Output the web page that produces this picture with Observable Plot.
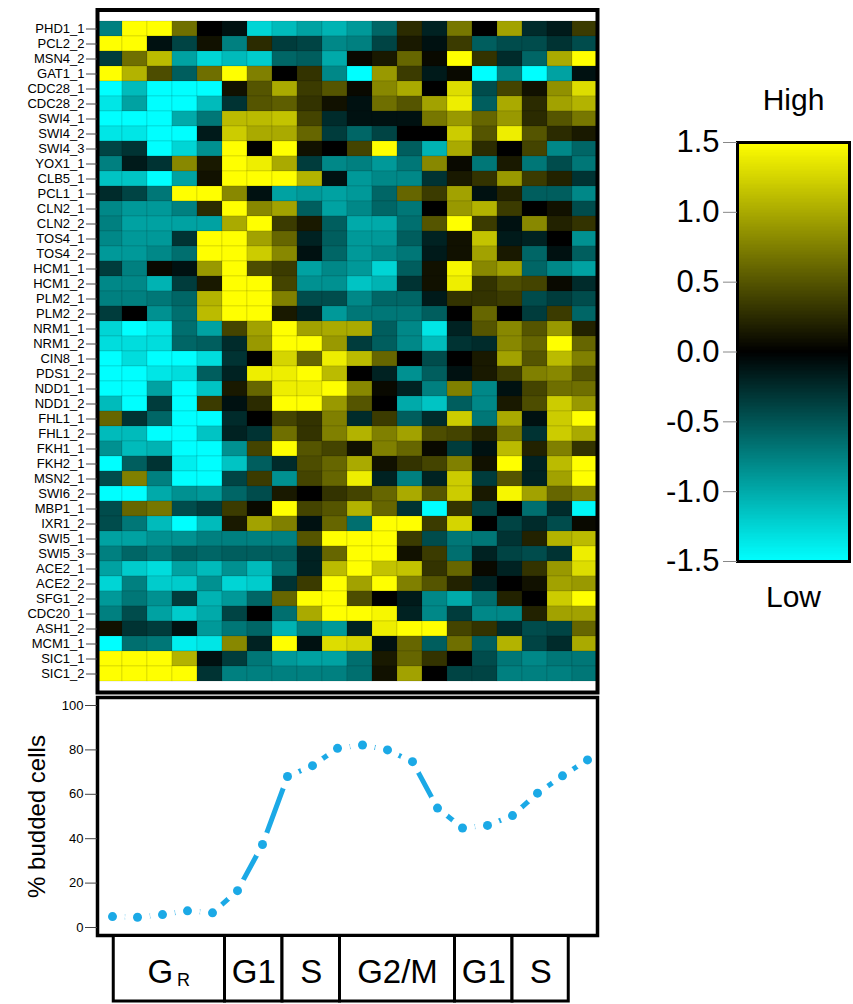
<!DOCTYPE html>
<html><head><meta charset="utf-8">
<script src="https://cdn.jsdelivr.net/npm/d3@7"></script>
<script src="https://cdn.jsdelivr.net/npm/@observablehq/plot@0.6"></script>
<style>
body{margin:0;background:#fff;}
#page{position:relative;width:853px;height:1004px;overflow:hidden;background:#fff;font-family:"Liberation Sans",Arial,sans-serif;}
#page svg{position:absolute;}
</style></head><body><div id="page"></div>
<script>
const genes = ["PHD1_1","PCL2_2","MSN4_2","GAT1_1","CDC28_1","CDC28_2","SWI4_1","SWI4_2","SWI4_3","YOX1_1","CLB5_1","PCL1_1","CLN2_1","CLN2_2","TOS4_1","TOS4_2","HCM1_1","HCM1_2","PLM2_1","PLM2_2","NRM1_1","NRM1_2","CIN8_1","PDS1_2","NDD1_1","NDD1_2","FHL1_1","FHL1_2","FKH1_1","FKH2_1","MSN2_1","SWI6_2","MBP1_1","IXR1_2","SWI5_1","SWI5_3","ACE2_1","ACE2_2","SFG1_2","CDC20_1","ASH1_2","MCM1_1","SIC1_1","SIC1_2"];

const timepoints = [1,2,3,4,5,6,7,8,9,10,11,12,13,14,15,16,17,18,19,20];

// expression (log ratio), one row per gene, one value per time point
const expression = [
 [-0.75,1.5,1.5,0.65,0,-0.1,-1.25,-1.1,-0.95,-1.05,-0.9,-0.6,0.25,-0.2,0.7,0,0.95,-0.25,-0.15,0.35],
 [1.5,1.5,-0.1,-0.4,0.1,-0.75,0.25,-0.35,-0.4,-0.8,-0.75,-0.4,0.15,-0.1,0.35,-0.55,-0.45,-0.45,-0.3,-0.45],
 [-0.35,0.65,1.1,-0.95,-1.25,-1.1,-1.2,-0.6,-0.55,-1.0,0.05,0.15,0.6,0.05,1.5,0.3,-0.25,-0.6,1.0,1.5],
 [1.5,1.05,0.45,-0.55,0.65,1.5,0.75,0,0.3,-0.8,-1.5,0.9,0.35,-0.15,0.05,-1.5,-0.75,-1.5,-0.95,-0.1],
 [-1.5,-1.1,-1.5,-1.5,-1.5,0.1,0.5,1.0,0.35,0.5,0.05,0.8,1.0,0,1.3,-0.45,0.4,0.1,0.85,1.3],
 [-1.35,-0.95,-1.5,-1.5,-1.1,-0.3,0.5,0.55,0.3,0.1,-0.1,0.65,0.5,0.95,1.4,-0.55,1.0,0.25,0.95,1.05],
 [-1.5,-1.5,-1.5,-1.0,-0.7,1.1,1.1,1.15,0.4,-0.25,-0.1,-0.1,-0.1,0.7,0.9,0.6,0.9,0.25,0.5,0.7],
 [-1.35,-1.35,-1.5,-1.5,-0.15,1.2,1.0,1.0,0.6,-0.35,-0.6,-0.4,0,0,1.2,0.5,1.4,0.5,0.25,0.15],
 [-0.4,-0.3,-1.5,-1.25,-0.85,1.5,0,1.5,0.1,0,0.4,1.5,-0.55,-1.05,1.0,0.25,0,0.4,-0.8,-0.6],
 [-0.75,-0.15,-0.3,0.8,0.15,1.5,1.4,1.0,-0.35,-0.8,-0.75,-0.9,-0.7,0.8,0.05,-0.7,0.15,-0.7,-0.45,-0.7],
 [-1.15,-1.15,-1.5,-0.95,0.1,1.5,1.5,1.5,1.05,-0.1,-0.9,-0.8,-0.8,-0.3,0.15,0.3,0.9,0.35,0.2,-0.3],
 [-0.25,-0.4,-0.7,1.5,1.5,0.8,-0.1,-0.95,-0.9,-0.95,-0.9,-0.6,0.6,0.35,0.95,-0.1,0.2,-0.55,-0.55,-0.8],
 [-0.8,-0.9,-0.9,-0.75,0.25,1.5,0.8,0.95,-0.55,-0.95,-0.8,-0.6,-0.7,0,0.9,1.05,0.35,0,0.1,-0.45],
 [-0.75,-0.95,-0.95,-0.95,-0.95,1.0,1.5,0.35,0.15,-0.55,-1.0,-1.0,-0.65,0.5,1.5,0.35,-0.1,0.8,0.2,0.3],
 [-0.8,-0.9,-0.9,-0.3,1.5,1.5,0.95,0.6,-0.2,-0.55,-0.9,-0.9,-0.55,-0.2,0.1,1.15,-0.15,-0.2,0,-0.85],
 [-0.9,-0.9,-0.8,-0.65,1.5,1.5,1.2,0.8,-0.1,-0.6,-0.9,-0.8,-0.7,-0.15,0.1,0.95,0.15,-0.6,-0.1,-0.55],
 [-0.35,-0.75,0.05,-0.1,0.9,1.5,0.45,0.35,-0.95,-0.8,-0.9,-1.25,-0.55,0.1,1.45,0.8,0.95,-0.6,-0.8,-0.95],
 [-0.8,-0.8,-1.05,-0.35,0.15,1.5,1.5,0.4,-0.85,-0.85,-1.15,-1.05,-0.3,0.1,1.4,0.3,0.45,0.4,0.05,-0.25],
 [-0.75,-0.75,-0.7,-0.6,1.05,1.5,1.5,0.75,-0.45,-0.45,-0.8,-0.6,-0.6,-0.15,0.3,0.3,0.35,-0.45,-0.35,-0.45],
 [-0.35,0,-0.85,-0.65,1.1,1.5,1.5,0.15,-0.2,-0.9,-0.7,-0.7,-0.7,-0.55,0,0.6,0,-0.35,0.35,-0.6],
 [-1.25,-1.5,-1.35,-0.65,-0.95,0.4,0.95,1.5,0.95,1.0,1.0,-0.55,-0.8,-1.35,-0.2,0.5,0.8,0.5,0.9,0.2],
 [-1.3,-1.3,-1.3,-0.6,-0.55,-0.25,0.9,1.5,1.5,0.9,-0.35,-0.55,-0.8,-1.1,-0.3,-0.25,0.8,0.6,1.5,0.6],
 [-1.5,-1.3,-1.5,-1.5,-1.3,-0.3,0,1.25,0.6,1.4,1.1,0.6,0,-0.45,0,0.15,0.95,0.5,1.1,0.75],
 [-1.5,-1.5,-1.35,-1.3,-0.55,-0.2,1.4,1.4,1.5,1.1,0,-0.2,-0.85,-0.55,-0.1,0.15,0.35,0.75,0.8,0.5],
 [-1.5,-1.5,-0.95,-1.5,-1.15,0.15,0.6,1.4,1.4,1.5,0.8,0.05,-0.2,-0.75,0.75,-0.8,-0.1,0.4,0.65,0.65],
 [-1.1,-1.5,-0.35,-1.5,0.35,-0.1,0.25,1.5,1.5,0.9,0.5,0,-1.0,-1.15,-0.55,-0.8,0.15,0.45,1.2,0.9],
 [0.6,-0.3,-0.6,-1.5,-1.5,-0.25,0,0.4,0.3,0.75,-0.25,0.35,-0.55,-0.25,1.2,-0.7,1.0,-0.1,1.2,1.5],
 [-1.1,-1.1,-1.5,-1.5,-1.15,-0.2,-0.3,0.65,0.3,0.75,1.05,0.75,0.95,0.45,0.4,0.2,0.7,-0.3,1.2,1.0],
 [-0.85,-1.1,-1.05,-1.5,-1.5,-0.85,0.4,1.5,0.5,0.4,0.1,0.75,0.6,0.05,-0.35,-0.1,1.1,0.2,0.75,0.3],
 [-1.5,-0.55,-0.3,-1.4,-1.5,-1.15,-0.55,-0.25,0.45,0.6,1.0,0.1,0.3,0.4,0.75,0.1,1.5,-0.2,1.1,1.5],
 [-0.45,0.75,-0.75,-1.5,-1.5,-0.4,0.35,-0.85,0.4,0.6,1.4,-0.2,-0.75,-0.2,1.2,-0.35,0.5,-0.2,0.95,1.5],
 [-1.5,-1.5,-1.0,-0.85,-0.9,-0.6,-0.45,0.15,0,0.3,0.4,0.6,1.0,0.5,1.2,0.15,1.45,0.95,0.6,0.75],
 [-0.45,0.6,0.7,-0.45,-0.35,0.35,0.05,1.5,0.4,0.5,1.05,0.6,-0.3,-1.5,0.3,-0.4,0,-0.65,-0.25,-1.45],
 [-0.45,-0.7,-1.1,-1.5,-1.1,0.15,0.95,0.75,-0.1,0.6,-0.65,1.5,1.5,0.35,1.25,0,-0.4,-0.25,-0.45,0.05],
 [-0.95,-0.95,-0.85,-0.85,-0.75,-0.75,-0.75,-0.75,0.5,1.5,1.5,1.5,0.35,-0.45,-0.7,-0.7,-0.3,0.2,1.05,1.1],
 [-0.75,-0.6,-0.7,-0.55,-0.6,-0.55,-0.55,-0.55,-0.2,0.6,1.5,1.5,0.1,0.35,-0.65,-0.2,-0.4,-0.45,-0.3,1.4],
 [-0.95,-1.2,-1.3,-0.95,-1.1,-0.85,-1.1,-0.65,-0.2,1.1,1.5,1.15,1.15,0.3,0.6,0.05,-0.2,0.3,0.9,1.3],
 [-1.25,-0.75,-1.2,-1.2,-0.85,-1.25,-1.2,-0.3,0.35,1.5,0.95,1.5,0.75,0.5,0.2,-0.2,0,0.1,0.95,0.9],
 [-0.9,-0.7,-0.85,-0.35,-1.05,-0.9,-0.6,0.6,1.5,1.5,0.45,0,-0.15,-0.8,-1.0,-0.65,0.2,0,1.2,1.5],
 [-0.75,-0.45,-0.95,-1.2,-1.0,-0.4,0,-0.65,1.0,1.5,1.5,1.45,-0.2,-0.8,-0.35,-0.8,-0.8,0.2,0.95,0.95],
 [0.1,-0.3,-0.35,-0.1,-0.9,-0.7,-0.6,-1.05,-0.75,-0.9,-0.2,1.4,1.5,1.5,0.4,0.3,-0.25,-0.45,-0.4,0.6],
 [-1.5,-0.65,-0.7,-1.4,-1.35,0.8,-0.2,1.5,-0.1,1.3,1.25,-0.1,0.6,-0.55,0.65,-0.55,1.05,-0.4,-0.25,1.0],
 [1.5,1.5,1.5,1.05,-0.1,-0.35,-0.7,-0.9,-0.95,-0.95,-0.65,0.15,0.6,0.3,0,-0.45,-0.7,-0.8,-0.7,-0.7],
 [1.5,1.5,1.5,1.5,-0.3,-0.75,-0.75,-0.75,-0.75,-0.75,-0.65,0.1,0.95,0,-0.4,-0.4,-0.75,-0.75,-0.75,-0.7]
];

const budded = [4.9,4.6,5.8,7.5,6.6,16.6,37.4,68,72.9,80.7,82.2,80,74.7,53.8,44.8,46,50.4,60.5,68.3,75.5];

const phaseNames = ["G_R","G1","S","G2/M","G1","S"];
const phaseBounds = [1.05,5.5,7.8,10.1,14.7,17.0,19.25];

const legendTicks = [-1.5,-1.0,-0.5,0,0.5,1.0,1.5];
const legendHigh = "High";
const legendLow = "Low";
const yLabel = "% budded cells";
const buddedTicks = [0,20,40,60,80,100];

const FONT = '"Liberation Sans", Arial, sans-serif';
const BLUE = "#1ba9e6";
const colorScale = {type: "linear", domain: [-1.5, 0, 1.5], range: ["#00ffff", "#000000", "#ffff00"], interpolate: "rgb", clamp: true};
const svgStyle = {fontFamily: FONT, background: "transparent", overflow: "visible"};
const page = document.getElementById("page");
function place(el, left, top) { el.style.left = left + "px"; el.style.top = top + "px"; page.appendChild(el); }

// Heatmap
const cells = genes.flatMap((g, i) => expression[i].map((v, j) => ({gene: g, t: timepoints[j], v})));
const heat = Plot.plot({
  width: 600, height: 696,
  marginLeft: 97, marginRight: 3, marginTop: 9.5, marginBottom: 4,
  style: svgStyle,
  x: {type: "band", domain: timepoints, padding: 0, axis: null},
  y: {type: "band", domain: genes, padding: 0, label: null, axis: null},
  color: colorScale,
  marks: [
    Plot.cell(cells, {x: "t", y: "gene", fill: "v", inset: 0, stroke: "rgba(0,0,0,0.18)", strokeWidth: 0.6}),
    Plot.frame({stroke: "black", strokeWidth: 4}),
    Plot.axisY({tickSize: 11, tickPadding: 2, fontSize: 13, label: null, stroke: "#444"})
  ]
});
place(heat, 0, 0);

// Line chart
const xT = {domain: [1, 20], insetLeft: 15, insetRight: 10, axis: null};
const line = Plot.plot({
  width: 600, height: 244,
  marginLeft: 97, marginRight: 3, marginTop: 2, marginBottom: 4,
  style: svgStyle,
  x: xT,
  y: {domain: [0, 100], insetTop: 8, insetBottom: 8, axis: null},
  marks: [
    Plot.line(budded, {x: (d, i) => timepoints[i], y: d => d, stroke: BLUE, strokeWidth: 5}),
    Plot.dot(budded, {x: (d, i) => timepoints[i], y: d => d, r: 12.5, fill: "white"}),
    Plot.dot(budded, {x: (d, i) => timepoints[i], y: d => d, r: 4.5, fill: BLUE}),
    Plot.frame({stroke: "black", strokeWidth: 3.5}),
    Plot.axisY({ticks: buddedTicks, tickSize: 12, tickPadding: 2, fontSize: 13, label: null, stroke: "#444"}),
    Plot.text([yLabel], {frameAnchor: "left", textAnchor: "middle", lineAnchor: "middle", rotate: -90, dx: -60, fontSize: 24})
  ]
});
place(line, 0, 695);

// Cell-cycle phase boxes
const phaseIdx = phaseNames.map((d, i) => i);
const mid = i => (phaseBounds[i] + phaseBounds[i + 1]) / 2;
const plain = phaseIdx.filter(i => !phaseNames[i].includes("_"));
const subbed = phaseIdx.filter(i => phaseNames[i].includes("_"));
const boxes = Plot.plot({
  width: 600, height: 70,
  marginLeft: 97, marginRight: 3, marginTop: 1.5, marginBottom: 3,
  style: svgStyle,
  x: xT,
  marks: [
    Plot.rect(phaseIdx, {x1: i => phaseBounds[i], x2: i => phaseBounds[i + 1], fill: "white", stroke: "black", strokeWidth: 3}),
    Plot.text(plain, {x: mid, text: i => phaseNames[i], fontSize: 33, lineAnchor: "middle", dy: 4}),
    Plot.text(subbed, {x: mid, text: i => phaseNames[i].split("_")[0], fontSize: 33, lineAnchor: "middle", dy: 4, dx: -9}),
    Plot.text(subbed, {x: mid, text: i => phaseNames[i].split("_")[1], fontSize: 18, lineAnchor: "middle", dy: 11, dx: 14})
  ]
});
place(boxes, 0, 934);

// Colour bar legend
const stops = d3.range(-150, 150).map(k => k / 100);
const bar = Plot.plot({
  width: 253, height: 640,
  marginLeft: 137, marginRight: 4, marginTop: 142, marginBottom: 79,
  style: svgStyle,
  y: {domain: [-1.5, 1.5], axis: null},
  color: colorScale,
  marks: [
    Plot.rect(stops, {y1: d => d, y2: d => Math.min(1.5, d + 0.02), fill: d => d + 0.005, inset: 0, shapeRendering: "crispEdges"}),
    Plot.frame({stroke: "black", strokeWidth: 3}),
    Plot.axisY({ticks: legendTicks, tickFormat: d => d.toFixed(1), tickSize: 14, tickPadding: 4, fontSize: 31, label: null, stroke: "#888"}),
    Plot.text([legendHigh], {frameAnchor: "top", lineAnchor: "middle", dy: -42, fontSize: 30}),
    Plot.text([legendLow], {frameAnchor: "bottom", lineAnchor: "middle", dy: 36, fontSize: 30})
  ]
});
place(bar, 600, 0);
</script></body></html>
